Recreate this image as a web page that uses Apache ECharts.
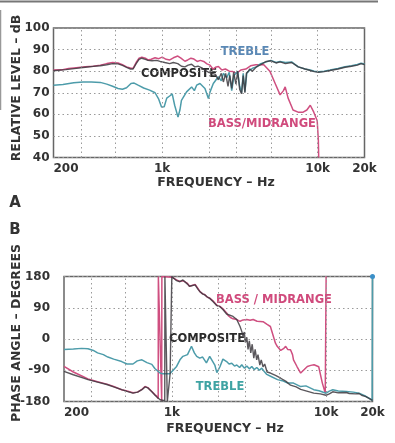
<!DOCTYPE html>
<html><head><meta charset="utf-8">
<script src="https://cdn.jsdelivr.net/npm/echarts@6/dist/echarts.min.js"></script>
<style>html,body{margin:0;padding:0;background:#fff}#c{width:395px;height:443px}</style>
</head><body><div id="c"></div>
<script>
// ---------- DATA ----------
const xTickValues = [200, 1000, 10000, 20000];
const xTickLabels = ['200', '1k', '10k', '20k'];
const gridFreqs = [300, 500, 1000, 2000, 3000, 5000, 10000];
const levelTicks = [40, 50, 60, 70, 80, 90, 100];
const phaseTicks = [-180, -90, 0, 90, 180];

// Panel A: relative level (dB) vs frequency (Hz)
const bassLevel = [[200,80.5],[225,80.6],[250,81.2],[280,81.6],[320,82],[360,82.3],[400,82.8],[440,83.5],[480,84],[520,83.8],[555,83],[590,82],[625,81.5],[650,81.3],[680,84],[710,86],[740,86.5],[780,86],[810,85.2],[850,85.5],[900,86.2],[950,85.8],[1000,86.5],[1060,85.5],[1120,85.2],[1180,86.2],[1260,87],[1320,86],[1400,84.6],[1460,85.2],[1530,86],[1600,85.6],[1680,84.5],[1760,85],[1850,84.5],[1940,83.4],[2030,82.8],[2120,81],[2200,81.8],[2300,82.2],[2420,80.5],[2550,81],[2700,80],[2850,79.8],[3000,79],[3200,80.5],[3450,81],[3700,82.5],[4000,83],[4500,83],[4925,80],[5311,74.5],[5732,69],[6023,71],[6180,72.7],[6453,67.5],[6807,63.5],[6940,62],[7478,61],[8062,61],[8517,62],[8962,64.2],[9437,61],[9927,57],[10100,48],[10150,40]];
const trebleLevel = [[200,73.5],[230,73.8],[270,74.6],[310,75],[350,75],[400,74.8],[440,74],[480,73],[520,72],[555,71.6],[590,72.3],[630,74.3],[660,74.5],[700,73.5],[760,72.2],[830,71.2],[900,70],[950,67],[990,63.4],[1030,63.5],[1070,67.5],[1117,68.5],[1160,69.5],[1203,64.2],[1264,58.7],[1300,62],[1330,66.5],[1435,70.4],[1546,72.7],[1610,71],[1666,73.5],[1750,74.3],[1884,72],[1982,67.3],[2031,70.4],[2132,74.3],[2297,77.4],[2400,75.5],[2474,79],[2600,77],[2700,79.5],[2800,71],[2900,78],[3050,80],[3150,73],[3240,70],[3320,79],[3403,70.5],[3500,79],[3662,80.5],[3850,81.5],[4040,82],[4300,83.5],[4674,84.3],[5000,85],[5400,84],[5732,84.5],[6200,84],[6800,84.3],[7500,82],[8300,81],[8960,80.5],[9500,80],[10150,79.7],[11000,80],[12000,80.5],[13500,81.2],[15000,82],[16500,82.5],[18000,83.1],[19000,83.7],[20000,83.3]];
const compositeLevel = [[200,80.2],[240,80.7],[280,81.3],[320,81.8],[360,82.2],[400,82.5],[440,83],[480,83.5],[520,83.4],[555,82.7],[590,81.8],[625,81],[650,81],[680,83.5],[710,85.5],[740,86],[780,85.5],[810,85],[860,84.8],[920,85],[970,84.5],[1040,84],[1117,83.5],[1180,84],[1260,83.5],[1330,82.3],[1400,82],[1470,82.8],[1546,83.2],[1620,82],[1700,82.3],[1800,81.5],[1884,80.5],[1982,79.5],[2100,79],[2200,78.5],[2297,76],[2400,79],[2474,75],[2560,79],[2650,73],[2720,78],[2800,72],[2880,79.5],[2980,74],[3060,80],[3150,71.5],[3240,69.5],[3320,78],[3403,70],[3480,79],[3580,80],[3662,81],[3800,80],[4040,82],[4300,83],[4674,84.5],[5000,84.8],[5400,83.8],[5732,84.3],[6200,83.5],[6800,84],[7500,82],[8300,81],[8960,80.3],[9500,79.8],[10150,79.5],[11000,79.8],[12000,80.3],[13500,81],[15000,81.8],[16500,82.3],[18000,82.8],[19000,83.5],[20000,83]];

// Panel B: phase angle (degrees) vs frequency (Hz)
const bassPhase = [[200,-79],[230,-95],[265,-108],[286,-115],[330,-123],[379,-130],[420,-137],[473,-146],[512,-150],[560,-155],[600,-153],[640,-145],[670,-137],[700,-140],[742,-151],[776,-160],[800,-165],[816,-172],[818,180],[860,-178],[862,180],[1000,178],[1030,175],[1074,170],[1129,166],[1180,168],[1209,171],[1264,160],[1302,152],[1341,150],[1416,157],[1480,145],[1517,137],[1584,130],[1634,128],[1700,120],[1760,118],[1848,110],[1901,104],[1960,97],[2051,94],[2144,87],[2266,75],[2315,68],[2400,62],[2494,58],[2637,56],[2769,51],[2898,55],[3063,56],[3217,54],[3367,56],[3570,51],[3903,50],[4147,42],[4356,36],[4557,7],[4697,-12],[4822,-21],[5082,-33],[5300,-28],[5472,-21],[5637,-30],[5879,-31],[6061,-45],[6150,-60],[6491,-80],[6845,-98],[7019,-93],[7560,-79],[7961,-76],[8359,-74],[8960,-80],[9178,-84],[9460,-127],[9880,-156],[10000,-160],[10010,180]];
const compositePhase = [[200,-93],[230,-103],[265,-112],[286,-117],[330,-124],[379,-131],[420,-138],[473,-146],[512,-151],[560,-156],[600,-153],[640,-146],[670,-138],[700,-141],[742,-152],[776,-161],[800,-167],[840,-175],[900,-178],[902,180],[935,-180],[975,-100],[990,-100],[1000,180],[1030,175],[1074,168],[1129,165],[1180,170],[1209,171],[1264,158],[1302,152],[1341,151],[1416,156],[1480,143],[1517,137],[1584,130],[1634,127],[1700,121],[1760,117],[1848,108],[1901,104],[1960,96],[2051,93],[2144,85],[2266,72],[2315,70],[2494,65],[2637,56],[2769,36],[2841,22],[2898,8],[2950,20],[3000,-10],[3063,5],[3120,-30],[3180,-5],[3250,-40],[3320,-15],[3400,-55],[3470,-30],[3550,-60],[3620,-45],[3720,-75],[3800,-60],[3903,-80],[4000,-72],[4147,-95],[4356,-98],[4700,-105],[5082,-113],[5500,-122],[5879,-133],[6400,-138],[6845,-145],[7500,-150],[8321,-156],[9178,-158],[10000,-162],[10500,-158],[11050,-152],[12000,-155],[13530,-154],[14140,-157],[15500,-158],[16360,-157],[17000,-162],[18110,-166],[19100,-172],[20000,-177]];
const treblePhase = [[200,-30],[230,-29],[260,-27],[286,-28],[310,-33],[330,-40],[360,-45],[385,-52],[420,-58],[473,-65],[512,-72],[560,-72],[597,-63],[640,-60],[690,-68],[742,-73],[776,-85],[800,-90],[838,-98],[870,-100],[900,-100],[971,-100],[1000,-95],[1074,-79],[1129,-60],[1180,-50],[1264,-45],[1341,-21],[1400,-40],[1450,-50],[1517,-55],[1584,-52],[1676,-69],[1760,-50],[1805,-52],[1900,-75],[1959,-97],[2051,-80],[2144,-58],[2266,-65],[2350,-72],[2447,-70],[2550,-78],[2637,-75],[2750,-82],[2841,-74],[2950,-84],[3063,-78],[3180,-86],[3300,-79],[3420,-88],[3554,-82],[3700,-90],[3829,-84],[3950,-92],[4128,-102],[4400,-108],[4843,-117],[5200,-120],[5637,-127],[6150,-127],[6845,-137],[7400,-135],[8321,-146],[9000,-149],[10000,-156],[10500,-150],[11050,-146],[12000,-150],[13530,-151],[15000,-153],[16360,-156],[18110,-165],[19100,-171],[19900,-177],[20000,180]];

// ---------- STYLE ----------
const FONT = 'DejaVu Sans';
const C_BASS = '#cf4f80', C_COMP = '#3d3a40', C_TREB = '#4d9caa';
const gridLine = {type:[1.5,3], color:'#9a9a9a', width:1};

function xAxis(gi){
  return {type:'log', logBase:10, gridIndex:gi, min:200, max:20000,
    axisLine:{show:false}, axisTick:{show:false}, splitLine:{show:false},
    axisLabel:{customValues:xTickValues, formatter:v=>{const i=xTickValues.findIndex(t=>Math.abs(t-v)/t<1e-6);return i>=0?xTickLabels[i]:'';},
      fontFamily:FONT, fontWeight:'bold', fontSize:12, color:'#333', margin:5, alignMinLabel:'left'}};
}
function yAxis(gi, ticks, margin){
  const min=ticks[0], max=ticks[ticks.length-1];
  return {type:'value', gridIndex:gi, min, max, interval:ticks[1]-ticks[0],
    axisLine:{show:false}, axisTick:{show:false},
    splitLine:{show:true, lineStyle:gridLine},
    axisLabel:{fontFamily:FONT, fontWeight:'bold', fontSize:12, color:'#333', margin}};
}
function line(name, data, color, xi, width, z, extra){
  return Object.assign({name, type:'line', xAxisIndex:xi, yAxisIndex:xi, data, showSymbol:false, symbol:'none',
    lineStyle:{color, width:width||1.5}, z:z||2, animation:false, silent:true}, extra||{});
}
function vgrid(){
  return {silent:true, symbol:['none','none'], label:{show:false}, lineStyle:gridLine,
    data:gridFreqs.map(f=>({xAxis:f}))};
}

const chart = echarts.init(document.getElementById('c'), null, {renderer:'canvas'});
const txt = (text, x, y, color, size, extra) => Object.assign({type:'text', x, y,
  style:{text, fill:color, font:`bold ${size}px "${FONT}"`, align:'center', verticalAlign:'middle'}, silent:true}, extra||{});

chart.setOption({
  backgroundColor:'#fff',
  animation:false,
  grid:[
    {left:53.5, top:28, width:311, height:129.5, show:true, borderColor:'#666', borderWidth:1.5, backgroundColor:'transparent'},
    {left:64, top:276.5, width:308.5, height:125, show:true, borderColor:'#666', borderWidth:1.5, backgroundColor:'transparent'}
  ],
  xAxis:[xAxis(0), xAxis(1)],
  yAxis:[yAxis(0, levelTicks, 4), yAxis(1, phaseTicks, 14)],
  series:[
    line('BASS/MIDRANGE', bassLevel, C_BASS, 0, 1.5, 2, {markLine:vgrid()}),
    line('TREBLE', trebleLevel, C_TREB, 0, 1.5, 3),
    line('COMPOSITE', compositeLevel, C_COMP, 0, 1.4, 4, {lineStyle:{color:C_COMP, width:1.4, opacity:0.85}}),
    line('BASS/MIDRANGE', bassPhase, C_BASS, 1, 1.5, 2, {markLine:vgrid()}),
    line('TREBLE', treblePhase, C_TREB, 1, 1.5, 3, {markPoint:{symbol:'circle', symbolSize:5, itemStyle:{color:'#3a8fc8'}, label:{show:false}, data:[{coord:treblePhase[treblePhase.length-1]}]}}),
    line('COMPOSITE', compositePhase, C_COMP, 1, 1.4, 4, {lineStyle:{color:C_COMP, width:1.4, opacity:0.85}})
  ],
  graphic:[
    txt('RELATIVE LEVEL – dB', 17, 88, '#333', 12.5, {rotation:Math.PI/2}),
    txt('FREQUENCY – Hz', 216, 183, '#333', 12.5),
    txt('A', 15, 203, '#333', 15),
    txt('B', 15, 230, '#333', 15),
    txt('PHASE ANGLE – DEGREES', 17, 333, '#333', 12.5, {rotation:Math.PI/2}),
    txt('FREQUENCY – Hz', 225, 429, '#333', 12.5),
    txt('TREBLE', 245, 52, '#5a88b5', 11.5),
    txt('COMPOSITE', 179, 74, '#2a2a2a', 11.5),
    txt('BASS/MIDRANGE', 262, 124, '#d04a7c', 11.5),
    txt('BASS / MIDRANGE', 274, 300, '#d04a7c', 11.5),
    txt('COMPOSITE', 207, 339, '#2a2a2a', 11.5),
    txt('TREBLE', 220, 387, '#3fa3a3', 11.5),
    {type:'line', shape:{x1:0, y1:1.5, x2:378, y2:1.5}, style:{stroke:'#777', lineWidth:2}, silent:true},
    {type:'line', shape:{x1:0.5, y1:10, x2:0.5, y2:110}, style:{stroke:'#999', lineWidth:1.5}, silent:true}
  ]
});
</script></body></html>
